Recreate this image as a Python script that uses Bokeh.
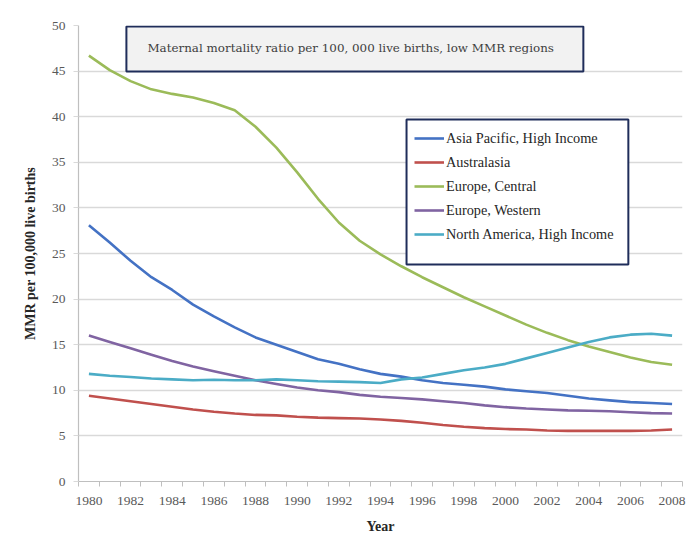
from bokeh.plotting import figure
from bokeh.models import Range1d, FixedTicker, BoxAnnotation, Label
from bokeh.embed import file_html
from bokeh.resources import INLINE

years = list(range(1980, 2009))

asia_pacific = [28.1, 26.2, 24.2, 22.4, 21.0, 19.4, 18.1, 16.9, 15.8, 15.0,
                14.2, 13.4, 12.9, 12.3, 11.8, 11.5, 11.1, 10.8, 10.6, 10.4,
                10.1, 9.9, 9.7, 9.4, 9.1, 8.9, 8.7, 8.6, 8.5]
australasia = [9.4, 9.1, 8.8, 8.5, 8.2, 7.9, 7.65, 7.45, 7.3, 7.25,
               7.1, 7.0, 6.95, 6.9, 6.8, 6.65, 6.45, 6.2, 6.0, 5.85,
               5.75, 5.7, 5.6, 5.55, 5.55, 5.55, 5.55, 5.6, 5.7]
europe_central = [46.7, 45.1, 43.9, 43.0, 42.5, 42.1, 41.5, 40.7, 38.9, 36.6,
                  33.9, 31.0, 28.4, 26.4, 24.9, 23.6, 22.4, 21.3, 20.2, 19.2,
                  18.2, 17.2, 16.3, 15.5, 14.8, 14.2, 13.6, 13.1, 12.8]
europe_western = [16.0, 15.3, 14.6, 13.9, 13.2, 12.6, 12.1, 11.6, 11.1, 10.7,
                  10.3, 10.0, 9.8, 9.5, 9.3, 9.15, 9.0, 8.8, 8.6, 8.35,
                  8.15, 8.0, 7.9, 7.8, 7.75, 7.7, 7.6, 7.5, 7.45]
north_america = [11.8, 11.6, 11.45, 11.3, 11.2, 11.1, 11.15, 11.1, 11.1, 11.2,
                 11.1, 11.0, 10.95, 10.9, 10.8, 11.2, 11.4, 11.8, 12.2, 12.5,
                 12.9, 13.5, 14.1, 14.7, 15.3, 15.8, 16.1, 16.2, 16.0]

series_names = ["Asia Pacific, High Income", "Australasia", "Europe, Central",
                "Europe, Western", "North America, High Income"]
series_values = [asia_pacific, australasia, europe_central, europe_western, north_america]
series_colors = ["#4472C4", "#C0504D", "#9BBB59", "#8064A2", "#4BACC6"]

x_tick_labels = list(range(1980, 2009, 2))
y_ticks = list(range(0, 51, 5))

title_text = "Maternal mortality ratio per 100, 000 live births, low MMR regions"

p = figure(width=691, height=540, output_backend="svg", toolbar_location=None,
           x_range=Range1d(1979.5, 2008.5), y_range=Range1d(0, 50),
           min_border_left=78, min_border_right=9, min_border_top=25,
           min_border_bottom=59)
p.outline_line_color = None
p.background_fill_color = "white"
p.border_fill_color = "white"

p.xgrid.grid_line_color = None
p.ygrid.grid_line_color = "#D9D9D9"
p.ygrid.grid_line_width = 1.5

p.xaxis.ticker = FixedTicker(ticks=x_tick_labels,
                             minor_ticks=[y - 0.5 for y in range(1980, 2010)])
p.yaxis.ticker = FixedTicker(ticks=y_ticks)

for ax in (p.xaxis, p.yaxis):
    ax.axis_line_color = "#BFBFBF"
    ax.axis_line_width = 1.2
    ax.major_label_text_font = "Liberation Serif"
    ax.major_label_text_font_size = "13.5px"
    ax.major_label_text_color = "#595959"
    ax.axis_label_text_font = "Liberation Serif"
    ax.axis_label_text_font_size = "14px"
    ax.axis_label_text_font_style = "bold"
    ax.axis_label_text_color = "#262626"

p.xaxis.major_tick_line_color = None
p.xaxis.minor_tick_line_color = "#BFBFBF"
p.xaxis.minor_tick_out = 5
p.xaxis.minor_tick_in = 0
p.xaxis.major_label_standoff = 9
p.xaxis.axis_label = "Year"
p.xaxis.axis_label_standoff = 11

p.yaxis.minor_tick_line_color = None
p.yaxis.major_tick_line_color = "#D9D9D9"
p.yaxis.major_tick_out = 5
p.yaxis.major_tick_in = 0
p.yaxis.major_label_standoff = 8
p.yaxis.axis_label = "MMR per 100,000 live births"
p.yaxis.axis_label_standoff = 11

for name, vals, col in zip(series_names, series_values, series_colors):
    p.line(years, vals, line_color=col, line_width=2.6, legend_label=name)

# title box
p.add_layout(BoxAnnotation(left=1981.80, right=2003.74, top=49.9, bottom=44.96,
                           fill_color="#F2F2F2", fill_alpha=1.0,
                           line_color="#1F2D5A", line_alpha=1.0, line_width=2,
                           level="overlay"))
p.add_layout(Label(x=1982.81, y=47.5, text=title_text, text_baseline="middle",
                   text_font="DejaVu Serif", text_font_size="11.9px",
                   text_color="#404040", level="overlay"))

# legend box
p.add_layout(BoxAnnotation(left=1995.25, right=2005.90, top=39.69, bottom=23.79,
                           fill_color="white", fill_alpha=1.0,
                           line_color="#1F2D5A", line_alpha=1.0, line_width=2,
                           level="overlay"))

lg = p.legend[0]
lg.location = (336, 237)
lg.border_line_color = None
lg.background_fill_alpha = 0
lg.padding = 0
lg.margin = 0
lg.spacing = 4
lg.label_height = 20
lg.glyph_height = 20
lg.glyph_width = 30
lg.label_standoff = 2
lg.label_text_font = "Liberation Serif"
lg.label_text_font_size = "14.3px"
lg.label_text_color = "#262626"
lg.level = "overlay"

open("out.html", "w").write(file_html(p, INLINE))
